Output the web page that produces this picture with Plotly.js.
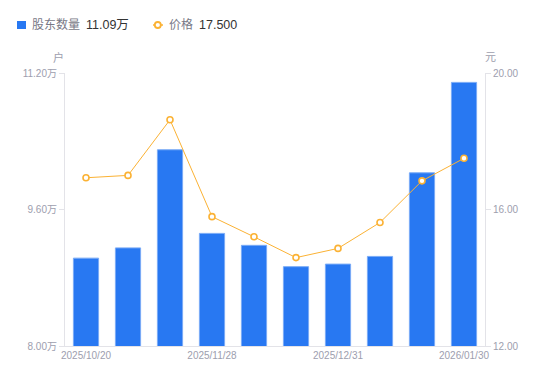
<!DOCTYPE html>
<html>
<head>
<meta charset="utf-8">
<script src="https://cdn.plot.ly/plotly-3.0.1.min.js"></script>
<style>html,body{margin:0;padding:0;background:#fff;}#chart{width:550px;height:381px;}</style>
</head>
<body>
<div id="chart"></div>
<script>
const dates = ['2025/10/20','2025/10/31','2025/11/10','2025/11/28','2025/12/10','2025/12/19','2025/12/31','2026/01/09','2026/01/20','2026/01/30'];
const holders = [9.03, 9.15, 10.30, 9.32, 9.18, 8.93, 8.96, 9.05, 10.03, 11.09]; // 万户
const prices = [16.93, 17.00, 18.63, 15.79, 15.20, 14.59, 14.86, 15.62, 16.84, 17.50]; // 元
const shownTicks = ['2025/10/20','2025/11/28','2025/12/31','2026/01/30'];
const leftTicks = [8.00, 9.60, 11.20];
const leftTickText = ['8.00万', '9.60万', '11.20万'];
const rightTicks = [12, 16, 20];
const rightTickText = ['12.00', '16.00', '20.00'];

const L = 65, R = 485, T = 73, B = 346, W = 550, H = 381;
const px = x => (x - L) / (R - L);
const py = y => (B - y) / (B - T);

const FONT = 'Liberation Sans, Arial, "Noto Sans CJK SC", sans-serif';
const tickColor = '#9d9eae';
const axisColor = '#e3e3e8';

const bar = {
  type: 'bar', x: dates, y: holders, yaxis: 'y', width: 0.6,
  marker: {color: '#2878f2', line: {color: '#7aabf6', width: 1}},
  hoverinfo: 'skip', showlegend: false
};
const line = {
  type: 'scatter', mode: 'lines+markers', x: dates, y: prices, yaxis: 'y2',
  line: {color: '#fbb234', width: 1},
  marker: {symbol: 'circle', size: 6, color: '#ffffff', line: {color: '#fbb234', width: 1.6}},
  hoverinfo: 'skip', showlegend: false
};

const lastH = holders[holders.length - 1].toFixed(2) + '万';
const lastP = prices[prices.length - 1].toFixed(3);

const layout = {
  width: W, height: H,
  margin: {l: L, r: W - R, t: T, b: H - B, pad: 0},
  paper_bgcolor: '#fff', plot_bgcolor: '#fff',
  font: {family: FONT, size: 10, color: tickColor},
  xaxis: {
    type: 'category', range: [-0.5, dates.length - 0.5], tickvals: shownTicks, ticktext: shownTicks,
    showgrid: false, zeroline: false, showline: true, linecolor: axisColor, linewidth: 1,
    ticks: '', tickfont: {size: 10, color: tickColor}, fixedrange: true
  },
  yaxis: {
    range: [8, 11.2], tickvals: leftTicks, ticktext: leftTickText,
    showgrid: false, zeroline: false, showline: true, linecolor: axisColor, linewidth: 1,
    ticks: 'outside', ticklen: 5, tickcolor: axisColor, tickfont: {size: 10, color: tickColor}
  },
  yaxis2: {
    range: [12, 20], tickvals: rightTicks, ticktext: rightTickText, overlaying: 'y', side: 'right',
    showgrid: false, zeroline: false, showline: true, linecolor: axisColor, linewidth: 1,
    ticks: 'outside', ticklen: 5, tickcolor: axisColor, tickfont: {size: 10, color: tickColor}
  },
  shapes: [
    {type: 'rect', xref: 'paper', yref: 'paper', x0: px(17), x1: px(26), y0: py(21), y1: py(29),
     fillcolor: '#2878f2', line: {width: 0}},
    {type: 'line', xref: 'paper', yref: 'paper', x0: px(153), x1: px(163), y0: py(25), y1: py(25),
     line: {color: '#fbb234', width: 1.5}},
    {type: 'circle', xref: 'paper', yref: 'paper', x0: px(154.8), x1: px(160.8), y0: py(22), y1: py(28),
     fillcolor: '#fff', line: {color: '#fbb234', width: 1.8}}
  ],
  annotations: [
    {xref: 'paper', yref: 'paper', x: px(30), y: py(25), xanchor: 'left', yanchor: 'middle', showarrow: false,
     text: '股东数量', font: {size: 12, color: '#787886'}},
    {xref: 'paper', yref: 'paper', x: px(84), y: py(25), xanchor: 'left', yanchor: 'middle', showarrow: false,
     text: lastH, font: {size: 12.5, color: '#333333'}},
    {xref: 'paper', yref: 'paper', x: px(167), y: py(25), xanchor: 'left', yanchor: 'middle', showarrow: false,
     text: '价格', font: {size: 12, color: '#787886'}},
    {xref: 'paper', yref: 'paper', x: px(197), y: py(25), xanchor: 'left', yanchor: 'middle', showarrow: false,
     text: lastP, font: {size: 12.5, color: '#333333'}},
    {xref: 'paper', yref: 'paper', x: px(58.5), y: py(57), xanchor: 'center', yanchor: 'middle', showarrow: false,
     text: '户', font: {size: 11, color: tickColor}},
    {xref: 'paper', yref: 'paper', x: px(490), y: py(57), xanchor: 'center', yanchor: 'middle', showarrow: false,
     text: '元', font: {size: 11, color: tickColor}}
  ]
};

Plotly.newPlot('chart', [bar, line], layout, {displayModeBar: false, staticPlot: true});
</script>
</body>
</html>
